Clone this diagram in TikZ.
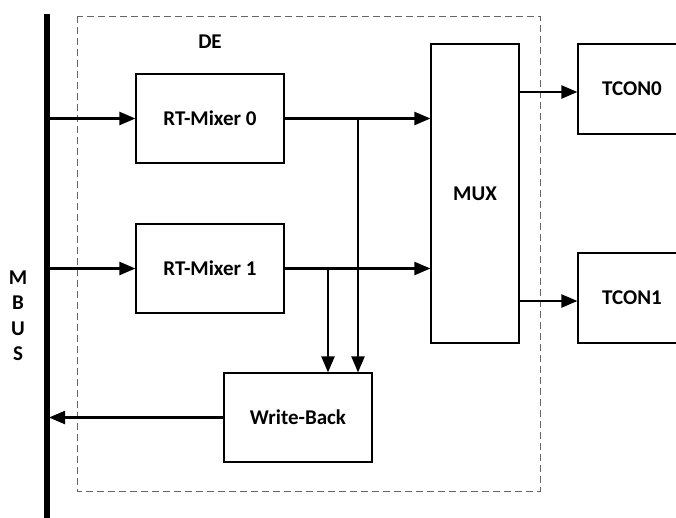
\documentclass[tikz,border=0pt]{standalone}
\usepackage{fontspec}
\setmainfont{Carlito}
\usetikzlibrary{arrows.meta}
\begin{document}
\begin{tikzpicture}[x=1pt,y=-1pt,
  blk/.style={draw, line width=1.2pt, fill=white, inner sep=0pt,
    font=\fontsize{21}{24}\selectfont\bfseries},
  conn/.style={line width=2.3pt, -{Triangle[length=16pt,width=13pt]}},
  lbl/.style={font=\fontsize{21}{24}\selectfont\bfseries, inner sep=0pt},
  debox/.style={draw=black!60, line width=1pt, dash pattern=on 7pt off 4pt}]
\useasboundingbox (0,0) rectangle (676,517);
\clip (0,0) rectangle (676,517);
% DE dashed region
\draw[debox] (77,16) rectangle (540,491);
\node[lbl] (de) at (210,42) {DE};
% MBUS bar
\coordinate (bustop) at (47,14);
\coordinate (busbot) at (47,520);
\draw[line width=5.5pt] (bustop) -- (busbot);
\node[lbl] (m) at (18,278) {M};
\node[lbl] (b) at (18,303) {B};
\node[lbl] (u) at (18,329) {U};
\node[lbl] (s) at (18,354) {S};
% blocks
\node[blk, minimum width=148pt, minimum height=89pt] (rm0) at (210,118.5) {RT-Mixer 0};
\node[blk, minimum width=148pt, minimum height=89pt] (rm1) at (210,268.5) {RT-Mixer 1};
\node[blk, minimum width=148pt, minimum height=89pt] (wb) at (298,417.5) {Write-Back};
\node[blk, minimum width=88pt, minimum height=299pt] (mux) at (475,193.5) {MUX};
\node[blk, minimum width=108pt, minimum height=90pt] (tc0) at (632,89) {TCON0};
\node[blk, minimum width=108pt, minimum height=90pt] (tc1) at (632,298) {TCON1};
% connectors
\coordinate (b0) at (47,118.5);
\coordinate (b1) at (47,268.5);
\coordinate (bw) at (49,417.5);
\draw[conn] (b0) -- (rm0.west);
\draw[conn] (b1) -- (rm1.west);
\draw[conn] (wb.west) -- (bw);
\draw[conn] (rm0.east) -- (rm0.east -| mux.west);
\draw[conn] (rm1.east) -- (rm1.east -| mux.west);
\coordinate (j0) at (358,118.5);
\coordinate (j1) at (328,268.5);
\draw[conn] (j0) -- (j0 |- wb.north);
\draw[conn] (j1) -- (j1 |- wb.north);
\coordinate (o0) at (519,92);
\coordinate (o1) at (519,301);
\draw[conn] (o0) -- (o0 -| tc0.west);
\draw[conn] (o1) -- (o1 -| tc1.west);
\end{tikzpicture}
\end{document}
